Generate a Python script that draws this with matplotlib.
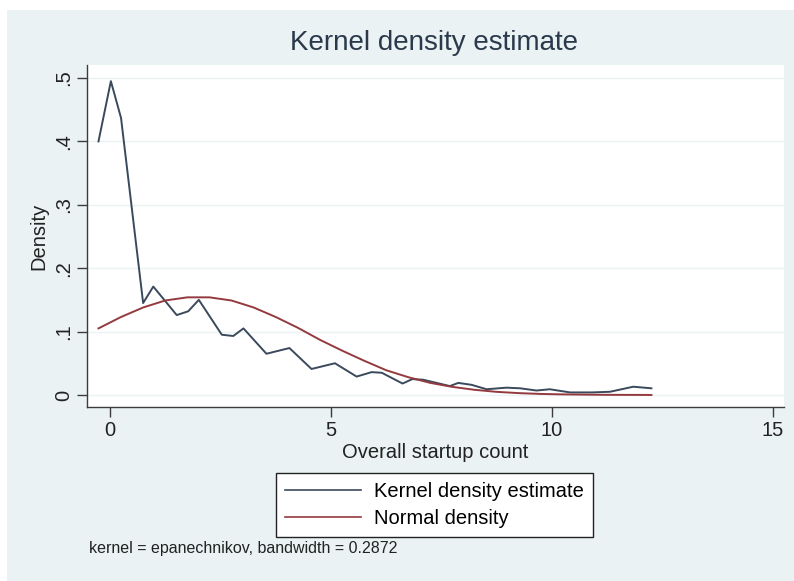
import matplotlib
matplotlib.use("Agg")
import matplotlib.pyplot as plt
from matplotlib.patches import Rectangle
from matplotlib.lines import Line2D

plt.rcParams.update({
    "font.family": ["Liberation Sans", "DejaVu Sans"],
    "font.size": 14.5,
})

BG = "#eaf2f3"
NAVY = "#3a4a5c"
MAROON = "#943a3f"
AXIS = "#3c3c3c"

# kernel density estimate
kde_x = [-0.26, 0.02, 0.25, 0.75, 0.98, 1.51, 1.77, 2.01, 2.53, 2.79, 3.02,
         3.54, 4.06, 4.56, 5.09, 5.58, 5.92, 6.15, 6.62, 6.84, 7.09, 7.39,
         7.69, 7.88, 8.18, 8.52, 8.97, 9.28, 9.65, 9.95, 10.41, 10.9, 11.31,
         11.84, 12.25]
kde_y = [0.400, 0.495, 0.437, 0.145, 0.171, 0.126, 0.132, 0.150, 0.095,
         0.093, 0.105, 0.065, 0.074, 0.041, 0.050, 0.029, 0.036, 0.035,
         0.018, 0.025, 0.024, 0.019, 0.014, 0.019, 0.016, 0.009, 0.0115,
         0.0105, 0.007, 0.009, 0.004, 0.004, 0.005, 0.013, 0.0105]

# normal density overlay
norm_x = [-0.26, 0.25, 0.75, 1.25, 1.75, 2.25, 2.75, 3.25, 3.75, 4.25, 4.75,
          5.25, 5.75, 6.25, 6.75, 7.25, 7.75, 8.25, 8.75, 9.25, 9.75, 10.25,
          10.75, 11.25, 11.75, 12.25]
norm_y = [0.105, 0.123, 0.138, 0.149, 0.154, 0.154, 0.149, 0.138, 0.123,
          0.106, 0.087, 0.070, 0.054, 0.039, 0.028, 0.019, 0.0127, 0.0081,
          0.0049, 0.0029, 0.0016, 0.0009, 0.0005, 0.0002, 0.0001, 0.0]

x_ticks = [0, 5, 10, 15]
y_ticks = [0, 0.1, 0.2, 0.3, 0.4, 0.5]
y_labels = ["0", ".1", ".2", ".3", ".4", ".5"]

W, H = 794, 581
fig = plt.figure(figsize=(W / 100, H / 100), dpi=100)
fig.patch.set_facecolor("white")
fig.patches.append(Rectangle((7 / W, 0), 1 - 7 / W, 1 - 10 / H,
                             transform=fig.transFigure, facecolor=BG,
                             edgecolor="none", zorder=-5))

ax = fig.add_axes([87 / W, 1 - 407 / H, (784 - 87) / W, (407 - 65) / H])
ax.set_zorder(2)
ax.set_facecolor("white")
ax.plot(kde_x, kde_y, color=NAVY, lw=1.4, label="Kernel density estimate",
        zorder=3)
ax.plot(norm_x, norm_y, color=MAROON, lw=1.4, label="Normal density",
        zorder=3)

ax.set_xlim(-0.52, 15.25)
ax.set_ylim(-0.019, 0.5205)
ax.set_xticks(x_ticks)
ax.set_yticks(y_ticks)
ax.set_yticklabels(y_labels, rotation=90, va="center")
ax.grid(axis="y", color=BG, lw=1.0)
ax.set_axisbelow(True)
for s in ("top", "right"):
    ax.spines[s].set_visible(False)
for s in ("left", "bottom"):
    ax.spines[s].set_color(AXIS)
    ax.spines[s].set_linewidth(1.0)
ax.tick_params(colors="#222222", length=7, width=1.0, labelsize=14.5,
               pad=3)
ax.tick_params(axis="both", color=AXIS)
ax.set_xlabel("Overall startup count", fontsize=14.5, labelpad=2,
              color="#222222")
ax.set_ylabel("Density", fontsize=14.5, labelpad=4, color="#222222")

fig.text(434 / W, 1 - 43 / H, "Kernel density estimate", ha="center",
         va="center", fontsize=20, color="#2a3a4c")

handles = [Line2D([], [], color=NAVY, lw=1.2),
           Line2D([], [], color=MAROON, lw=1.2)]
leg = fig.legend(handles, ["Kernel density estimate", "Normal density"],
                 loc="center", bbox_to_anchor=(434.5 / W, 1 - 505 / H),
                 fontsize=14.5, frameon=True, fancybox=False, framealpha=1,
                 handlelength=3.8, handletextpad=0.65, labelspacing=0.4,
                 borderpad=0.45)
leg.get_frame().set_edgecolor("#222222")
leg.get_frame().set_linewidth(1.0)
leg.get_frame().set_facecolor("white")

fig.text(89 / W, 1 - 549 / H, "kernel = epanechnikov, bandwidth = 0.2872",
         ha="left", va="center", fontsize=11.5, color="#222222")

fig.savefig("out.png", dpi=100, facecolor=fig.get_facecolor())
